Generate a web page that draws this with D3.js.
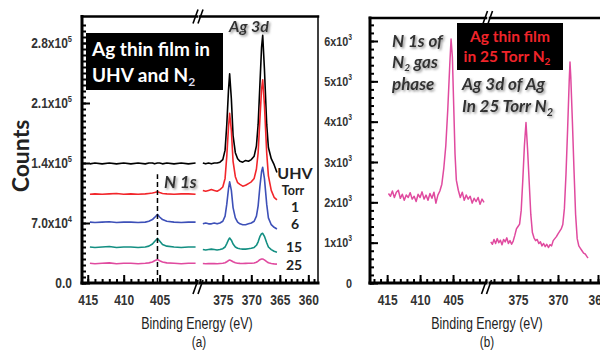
<!DOCTYPE html>
<html>
<head>
<meta charset="utf-8">
<script src="https://cdn.jsdelivr.net/npm/d3@7"></script>
<style>
  body { margin: 0; background: #fff; }
  svg { display: block; }
  .tick text { font-family: 'Liberation Sans', Arial, sans-serif; font-weight: bold; fill: #333; }
  .tick line { stroke: #000; stroke-width: 2; }
  .lbl { font-family: Lato, 'Open Sans', sans-serif; font-weight: bold; }
  .note { font-family: Lato, 'Open Sans', sans-serif; font-weight: bold; font-style: italic; fill: #333; }
  .title { font-family: 'Liberation Sans', Arial, sans-serif; fill: #222; }
</style>
</head>
<body>
<svg id="chart" width="600" height="351">
  <defs>
    <filter id="shadow" x="-10%" y="-20%" width="130%" height="150%">
      <feDropShadow dx="1.5" dy="1.5" stdDeviation="0.8" flood-color="#777" flood-opacity="0.8"/>
    </filter>
  </defs>
</svg>
<script>
// ---------- panel (a): counts in units of 1e3 ----------
// N 1s region
var energyA1 = [414.7,414,413,412,411,410,409,408,407,406.5,406,405.7,405.3,405,404.6,404,403,402,401,400];
var uhvA1    = [139,140,139,140,139,140,139,140,139,140,140,139,140,140,139,140,139,140,139,140];
var torr1A1  = [103.5,104,103.5,104,104.5,103.5,104,103.5,104,104.5,105,105.5,106.5,105.5,104.5,104,103.5,104,104,103.5];
var torr6A1  = [71,70.5,71,71.5,70.5,71,71,70.5,71,72,74,76.5,80,77,74,72,71,70.5,71,71];
var torr15A1 = [42,41.5,42,42.5,41.5,42,42,41.5,42,43,45.5,48.5,52,49,45,43,42,41.5,42,42];
var torr25A1 = [23,22.5,23,23.5,22.5,23,23,22.5,23,23.5,24.5,26,27.5,26,24.5,23.5,23,22.5,23,23];
// Ag 3d region
var energyA2 = [378.5,378,377.5,377,376.5,376,375.5,375,374.6,374.3,374,373.8,373.5,373.2,372.8,372.4,372,
                371.5,371,370.5,370,369.5,369.1,368.8,368.5,368.2,368,367.7,367.3,367,366.5,366,365.5];
var uhvA2    = [140,139,140,139,140,140,141,144,155,185,225,244,215,172,152,145,142,
                141,143,142,144,148,160,185,230,275,289,250,185,158,145,138,129];
var torr1A2  = [108,107,108,109,108,107,109,112,122,148,182,198,178,142,124,117,115,
                113,114,116,118,122,133,152,190,226,237,208,152,125,108,100,97];
var torr6A2  = [69,70,69,69,70,69,70,72,78,92,110,118,108,88,76,71,69,
                68,68,69,70,72,78,90,112,130,135,122,92,76,68,65,63];
var torr15A2 = [39,38.5,39,39.5,39,38.5,39,40,42,46,50.5,52.5,50,45.5,42,40.5,40,
                39.5,39.5,40,40.5,41.5,44,48,54,57.5,58,54.5,47,42,39,37,36];
var torr25A2 = [22.7,22.5,22.8,22.6,22.8,22.5,22.8,23,23.6,24.8,26.2,26.8,26,24.8,23.6,23.1,22.9,
                22.8,22.9,23,23.1,23.4,24.2,25.6,27.2,28,28,27,25,23.6,22.8,22.3,22];

var seriesNames  = ["UHV", "1", "6", "15", "25"];
var seriesColors = ["#000000", "#f2262b", "#3d50b8", "#138f82", "#e04a9f"];

// ---------- panel (b): 25 Torr N2, counts in units of 1e3 ----------
var energyB1 = [414.8,414.5,414.2,413.9,413.6,413.3,413.0,412.7,412.4,412.1,411.8,411.5,411.2,410.9,410.6,410.3,
                410.0,409.7,409.4,409.1,408.8,408.5,408.2,407.9,407.6,407.3,407.0,406.7,406.4,406.1,405.8,405.5,
                405.3,405.1,404.9,404.7,404.5,404.2,403.9,403.6,403.3,403.0,402.7,402.4,402.1,401.8,401.5,401.2,
                400.9,400.6,400.3];
var countsB1 = [2.22,2.15,2.28,2.12,2.25,2.30,2.10,2.20,2.05,2.18,2.12,2.24,2.08,2.15,2.02,2.20,
                2.12,2.26,2.08,2.18,2.05,2.22,2.10,2.25,1.98,2.18,2.28,2.45,2.85,3.40,4.30,5.40,
                6.05,5.60,4.40,3.20,2.55,2.30,2.12,2.25,2.05,2.18,2.08,2.15,1.98,2.10,2.02,2.12,
                1.95,2.08,2.00];
var energyB2 = [378.4,378.2,378.0,377.8,377.6,377.4,377.2,377.0,376.8,376.6,376.4,376.2,376.0,375.8,375.6,375.4,
                375.2,375.0,374.8,374.6,374.4,374.2,374.0,373.8,373.6,373.4,373.2,373.0,372.8,372.6,372.4,372.2,
                372.0,371.8,371.6,371.4,371.2,371.0,370.8,370.6,370.4,370.2,370.0,369.8,369.6,369.4,369.2,369.0,
                368.8,368.6,368.5,368.4,368.2,368.0,367.8,367.6,367.4,367.2,367.0,366.8,366.6,366.4,366.25];
var countsB2 = [1.02,0.96,1.08,0.98,1.10,1.00,1.06,0.95,1.08,1.02,1.12,0.98,1.05,0.96,1.04,1.18,
                1.34,1.40,1.46,1.80,2.55,3.40,3.98,3.30,2.50,1.70,1.25,1.12,1.05,1.08,0.98,1.02,
                0.92,0.98,0.90,0.96,0.88,0.95,0.92,1.05,1.10,1.15,1.22,1.28,1.34,1.45,1.85,2.70,
                3.80,5.00,5.48,5.10,4.00,2.80,1.70,1.10,0.92,0.86,0.80,0.74,0.72,0.66,0.62];

// ---------- axis ticks ----------
var yTicksA = [0, 70000, 140000, 210000, 280000];
var yTickTextA = ["0.0", "7.0x10^4", "1.4x10^5", "2.1x10^5", "2.8x10^5"];
var yTicksB = [0, 1000, 2000, 3000, 4000, 5000, 6000];
var yTickTextB = ["0", "1x10^3", "2x10^3", "3x10^3", "4x10^3", "5x10^3", "6x10^3"];
var xTicksLo = [415, 410, 405];
var xTicksHiA = [375, 370, 365, 360];
var xTicksHiB = [375, 370, 365];

var NARROW = 0.8; // squeeze Liberation Sans to look like Arial Narrow
var svg = d3.select("#chart");

// scales
var xA1 = d3.scaleLinear().domain([415.8, 399.8]).range([82, 197]);
var xA2 = d3.scaleLinear().domain([379, 358.3]).range([200, 318]);
var yA = d3.scaleLinear().domain([0, 280000]).range([283, 43]);
var topA = yA(311000);

var xB1 = d3.scaleLinear().domain([417.6, 400]).range([370, 486]);
var xB2 = d3.scaleLinear().domain([378.5, 362.5]).range([490, 618]);
var yB = d3.scaleLinear().domain([0, 6000]).range([283, 41]);
var topB = yB(6570);

function supLabels(g, labels, size, pad) {
  g.selectAll(".tick text").each(function(d, i) {
    var parts = labels[i].split("^");
    var t = d3.select(this).text(parts[0]).attr("font-size", size)
      .attr("x", -pad / NARROW).attr("transform", "scale(" + NARROW + ",1)");
    if (parts[1]) t.append("tspan").attr("dy", -6).attr("font-size", size * 0.62).text(parts[1]);
  });
}

function bottomAxis(x, y0, major, minorStep, size) {
  var d = x.domain();
  var lo = Math.ceil(Math.min(d[0], d[1])), hi = Math.floor(Math.max(d[0], d[1]));
  svg.append("g").attr("transform", "translate(0," + y0 + ")")
    .call(d3.axisBottom(x).tickValues(d3.range(lo, hi + 0.01, minorStep)).tickSize(-4).tickFormat(""))
    .call(g => g.select(".domain").remove());
  var g = svg.append("g").attr("transform", "translate(0," + y0 + ")")
    .call(d3.axisBottom(x).tickValues(major).tickSize(-8).tickPadding(11).tickFormat(d3.format("d")))
    .call(g => g.select(".domain").remove());
  g.selectAll(".tick text").attr("font-size", size).attr("transform", "scale(" + NARROW + ",1)");
}

function leftAxis(y, x0, top, ticks, labels, minorStep, size, pad) {
  svg.append("g").attr("transform", "translate(" + x0 + ",0)")
    .call(d3.axisLeft(y).tickValues(d3.range(0, y.domain()[1] * 1.1, minorStep).filter(v => y(v) > top + 2))
      .tickSize(-4).tickFormat(""))
    .call(g => g.select(".domain").remove());
  var g = svg.append("g").attr("transform", "translate(" + x0 + ",0)")
    .call(d3.axisLeft(y).tickValues(ticks).tickSize(-8).tickPadding(pad))
    .call(g => g.select(".domain").remove());
  supLabels(g, labels, size, pad);
  return g;
}

function frameLine(x1, y1, x2, y2, w) {
  svg.append("line").attr("x1", x1).attr("y1", y1).attr("x2", x2).attr("y2", y2)
    .attr("stroke", "#000").attr("stroke-width", w).attr("stroke-linecap", "square");
}

function breakMark(xc, yc) {
  [-2.5, 2.5].forEach(function(o) {
    svg.append("line").attr("x1", xc + o - 3).attr("y1", yc + 7).attr("x2", xc + o + 2).attr("y2", yc - 7)
      .attr("stroke", "#000").attr("stroke-width", 1.6);
  });
}

function drawSeries(x, y, energies, values, color, width) {
  var line = d3.line().x((d, i) => x(energies[i])).y(d => y(d * 1000));
  svg.append("path").datum(values).attr("d", line)
    .attr("fill", "none").attr("stroke", color).attr("stroke-width", width).attr("stroke-linejoin", "round");
}

function narrowText(x, y, size, txt) {
  return svg.append("text").attr("class", "title").attr("font-size", size)
    .attr("transform", "translate(" + x + "," + y + ") scale(0.78,1)")
    .attr("text-anchor", "middle").text(txt);
}

// ================= panel (a) =================
var a1Sets = [uhvA1, torr1A1, torr6A1, torr15A1, torr25A1];
var a2Sets = [uhvA2, torr1A2, torr6A2, torr15A2, torr25A2];
seriesNames.forEach(function(n, i) {
  drawSeries(xA1, yA, energyA1, a1Sets[i], seriesColors[i], 1.6);
  drawSeries(xA2, yA, energyA2, a2Sets[i], seriesColors[i], 1.6);
});

// dashed marker at N 1s
svg.append("line")
  .attr("x1", xA1(405.3)).attr("x2", xA1(405.3))
  .attr("y1", yA(0)).attr("y2", yA(127000))
  .attr("stroke", "#000").attr("stroke-width", 1.5).attr("stroke-dasharray", "5,3");

bottomAxis(xA1, yA(0), xTicksLo, 1, 15);
bottomAxis(xA2, yA(0), xTicksHiA, 1, 15);
leftAxis(yA, xA1.range()[0], topA, yTicksA, yTickTextA, 7000, 15, 10);

// frame (a)
frameLine(xA1.range()[0], topA, xA1.range()[0], yA(0), 3);
frameLine(xA1.range()[0], yA(0), xA1.range()[1], yA(0), 3);
frameLine(xA2.range()[0], yA(0), xA2.range()[1], yA(0), 3);
frameLine(xA1.range()[0], topA, xA1.range()[1], topA, 2.5);
frameLine(xA2.range()[0], topA, xA2.range()[1], topA, 2.5);
frameLine(xA2.range()[1], topA, xA2.range()[1], yA(0), 1.5);
breakMark(198.5, topA);
breakMark(198.5, yA(0) + 4);

// box (a)
svg.append("rect").attr("x", 86).attr("y", 33).attr("width", 137).attr("height", 57).attr("fill", "#000");
var boxA = svg.append("text").attr("class", "lbl").attr("fill", "#fff").attr("font-size", 19);
boxA.append("tspan").attr("x", 92).attr("y", 56).text("Ag thin film in");
boxA.append("tspan").attr("x", 92).attr("y", 82).text("UHV and N");
boxA.append("tspan").attr("font-size", 12).attr("dy", 4).attr("fill", "#dde").text("2");

svg.append("text").attr("class", "note").attr("filter", "url(#shadow)").attr("font-size", 16)
  .attr("x", 249).attr("y", 32).attr("text-anchor", "middle").text("Ag 3d");
svg.append("text").attr("class", "note").attr("filter", "url(#shadow)").attr("font-size", 17)
  .attr("x", 164).attr("y", 188).text("N 1s");

// legend labels (a)
var legA = [
  {t: "UHV", x: 295, y: 179, s: 16},
  {t: "Torr", x: 293, y: 195, s: 12.5},
  {t: "1", x: 295, y: 212, s: 14},
  {t: "6", x: 295, y: 229, s: 14},
  {t: "15", x: 294, y: 252, s: 14},
  {t: "25", x: 294, y: 270, s: 14}
];
legA.forEach(function(d) {
  svg.append("text").attr("class", "lbl").attr("fill", "#222").attr("font-size", d.s)
    .attr("x", d.x).attr("y", d.y).attr("text-anchor", "middle").text(d.t);
});

// ================= panel (b) =================
drawSeries(xB1, yB, energyB1, countsB1, "#e04a9f", 1.5);
drawSeries(xB2, yB, energyB2, countsB2, "#e04a9f", 1.5);

bottomAxis(xB1, yB(0), xTicksLo, 1, 15);
bottomAxis(xB2, yB(0), xTicksHiB, 1, 15);
var gB = leftAxis(yB, xB1.range()[0], topB, yTicksB, yTickTextB, 200, 13.5, 18);
gB.selectAll(".tick text").attr("font-weight", "normal");

frameLine(xB1.range()[0], topB, xB1.range()[0], yB(0), 3);
frameLine(xB1.range()[0], yB(0), xB1.range()[1], yB(0), 3);
frameLine(xB2.range()[0], yB(0), xB2.range()[1], yB(0), 3);
frameLine(xB1.range()[0], topB, xB1.range()[1], topB, 2.5);
frameLine(xB2.range()[0], topB, xB2.range()[1], topB, 2.5);
breakMark(488, topB);
breakMark(487, yB(0) + 4);

svg.append("rect").attr("x", 457).attr("y", 23).attr("width", 106).attr("height", 47).attr("fill", "#000");
var boxB = svg.append("text").attr("class", "lbl").attr("fill", "#f0242a").attr("font-size", 15.5).attr("text-anchor", "middle");
boxB.append("tspan").attr("x", 510).attr("y", 42).text("Ag thin film");
boxB.append("tspan").attr("x", 507).attr("y", 62).text("in 25 Torr N");
boxB.append("tspan").attr("font-size", 10).attr("dy", 3).text("2");

var nB = svg.append("text").attr("class", "note").attr("filter", "url(#shadow)").attr("font-size", 17);
nB.append("tspan").attr("x", 392).attr("y", 47).text("N 1s of");
nB.append("tspan").attr("x", 392).attr("y", 68).text("N");
nB.append("tspan").attr("font-size", 10).attr("dy", 3).text("2");
nB.append("tspan").attr("dy", -3).text(" gas");
nB.append("tspan").attr("x", 392).attr("y", 90).text("phase");

var agB = svg.append("text").attr("class", "note").attr("filter", "url(#shadow)").attr("font-size", 17);
agB.append("tspan").attr("x", 462).attr("y", 90).text("Ag 3d of Ag");
agB.append("tspan").attr("x", 462).attr("y", 112).text("In 25 Torr N");
agB.append("tspan").attr("font-size", 11).attr("dy", 4).text("2");

// ================= titles =================
svg.append("text").attr("class", "lbl").attr("fill", "#222").attr("font-size", 23)
  .attr("transform", "translate(29,156) rotate(-90)").attr("text-anchor", "middle").text("Counts");
narrowText(197, 329, 16, "Binding Energy (eV)");
narrowText(199, 347, 15, "(a)");
narrowText(487, 329, 16, "Binding Energy (eV)");
narrowText(487, 347, 15, "(b)");
</script>
</body>
</html>
